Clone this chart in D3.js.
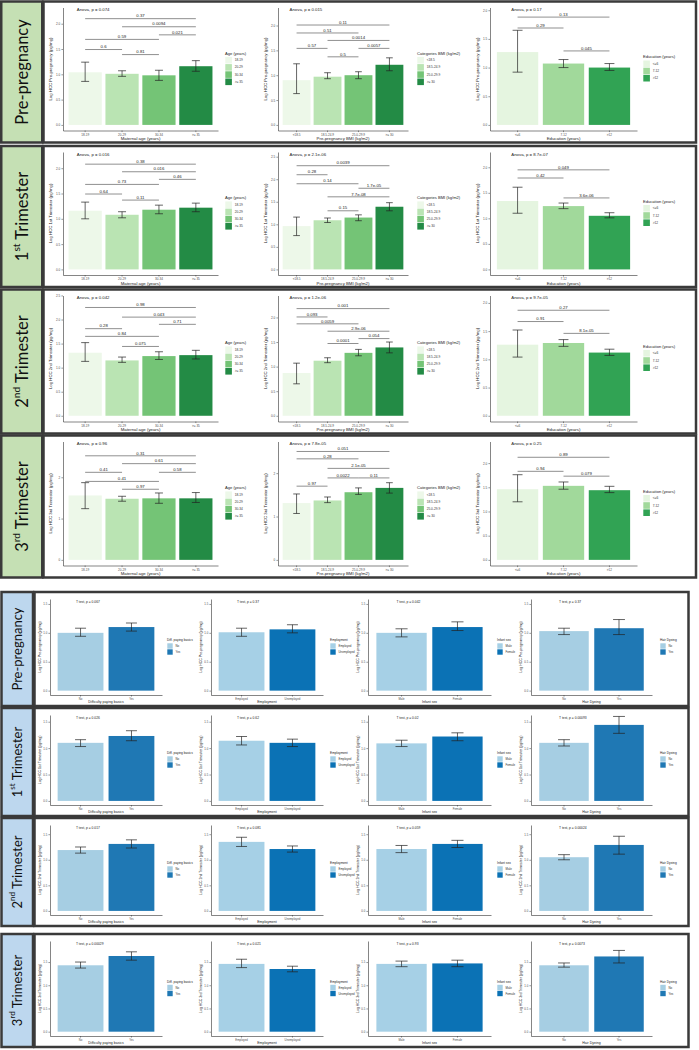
<!DOCTYPE html>
<html>
<head>
<meta charset="utf-8">
<script src="https://cdn.jsdelivr.net/npm/d3@7"></script>
<style>
body { margin: 0; background: #fff; }
</style>
</head>
<body>
<div id="fig"></div>
<script>
// etapas (filas)
var stages = ["Pre-pregnancy", "1st Trimester", "2nd Trimester", "3rd Trimester"];
var stageNum = ["", "1", "2", "3"];
var stageSup = ["", "st", "nd", "rd"];

// ---- parte superior: ANOVA ----
var ageCats = ["18-19", "20-29", "30-34", ">= 35"];
var ageMeans = [[1.04, 1.01, 0.98, 1.16], [1.16, 1.08, 1.18, 1.22], [1.31, 1.15, 1.24, 1.26], [1.56, 1.48, 1.49, 1.49]];
var ageLo = [[0.86, 0.96, 0.88, 1.06], [1.00, 1.02, 1.10, 1.14], [1.13, 1.11, 1.17, 1.18], [1.24, 1.42, 1.37, 1.39]];
var ageHi = [[1.24, 1.07, 1.08, 1.27], [1.33, 1.14, 1.27, 1.31], [1.52, 1.22, 1.33, 1.36], [1.87, 1.54, 1.62, 1.63]];
var ageBr = [
  [[0, 3, 2.10, "0.37"], [1, 3, 1.94, "0.0094"], [2, 3, 1.78, "0.021"], [0, 2, 1.69, "0.59"], [0, 1, 1.49, "0.6"], [1, 2, 1.39, "0.81"]],
  [[0, 3, 2.08, "0.38"], [1, 3, 1.93, "0.016"], [2, 3, 1.78, "0.46"], [0, 2, 1.68, "0.73"], [0, 1, 1.49, "0.64"], [1, 2, 1.37, "0.11"]],
  [[0, 3, 2.25, "0.98"], [1, 3, 2.05, "0.043"], [2, 3, 1.90, "0.71"], [0, 1, 1.81, "0.28"], [0, 2, 1.65, "0.84"], [1, 2, 1.44, "0.075"]],
  [[0, 3, 2.52, "0.31"], [1, 3, 2.33, "0.61"], [0, 1, 2.12, "0.41"], [2, 3, 2.12, "0.58"], [0, 2, 1.90, "0.41"], [1, 2, 1.71, "0.97"]]
];
var ageP = ["0.074", "0.016", "0.042", "0.96"];
var ageYmax = [2.21, 2.21, 2.38, 2.73];
var ageTicks = [[0, 0.5, 1, 1.5, 2], [0, 0.5, 1, 1.5, 2], [0, 0.5, 1, 1.5, 2, 2.5], [0, 1, 2]];

var bmiCats = ["<18.5", "18.5-24.9", "25.0-29.9", ">= 30"];
var bmiMeans = [[0.90, 0.97, 1.00, 1.21], [0.96, 1.09, 1.15, 1.39], [0.87, 1.12, 1.28, 1.39], [1.31, 1.37, 1.56, 1.66]];
var bmiLo = [[0.63, 0.93, 0.93, 1.09], [0.75, 1.04, 1.08, 1.30], [0.65, 1.08, 1.22, 1.28], [1.07, 1.32, 1.51, 1.54]];
var bmiHi = [[1.23, 1.05, 1.07, 1.35], [1.16, 1.14, 1.21, 1.48], [1.07, 1.18, 1.35, 1.50], [1.52, 1.45, 1.66, 1.78]];
var bmiBr = [
  [[0, 3, 2.01, "0.11"], [0, 2, 1.85, "0.51"], [1, 3, 1.70, "0.0014"], [0, 1, 1.54, "0.57"], [2, 3, 1.54, "0.0057"], [1, 2, 1.37, "0.5"]],
  [[0, 3, 2.30, "0.0039"], [0, 1, 2.10, "0.28"], [0, 2, 1.90, "0.14"], [2, 3, 1.80, "1.7e-05"], [1, 3, 1.61, "7.7e-08"], [1, 2, 1.30, "0.15"]],
  [[0, 3, 2.18, "0.001"], [0, 1, 2.01, "0.093"], [0, 2, 1.87, "0.0059"], [1, 3, 1.72, "2.9e-06"], [2, 3, 1.57, "0.054"], [1, 2, 1.47, "0.0001"]],
  [[0, 3, 2.50, "0.051"], [0, 2, 2.33, "0.28"], [1, 3, 2.11, "2.1e-05"], [1, 2, 1.89, "0.0022"], [2, 3, 1.89, "0.11"], [0, 1, 1.70, "0.97"]]
];
var bmiP = ["0.015", "2.1e-06", "1.2e-06", "7.8e-05"];
var bmiYmax = [2.25, 2.48, 2.33, 2.6];
var bmiTicks = [[0, 0.5, 1, 1.5, 2], [0, 0.5, 1, 1.5, 2, 2.5], [0, 0.5, 1, 1.5, 2], [0, 1, 2]];

var eduCats = ["<=6", "7-12", ">12"];
var eduMeans = [[1.27, 1.07, 1.00], [1.34, 1.24, 1.05], [1.26, 1.29, 1.12], [1.46, 1.53, 1.44]];
var eduLo = [[0.92, 1.00, 0.95], [1.10, 1.19, 1.01], [1.04, 1.23, 1.07], [1.20, 1.46, 1.39]];
var eduHi = [[1.65, 1.14, 1.07], [1.61, 1.30, 1.11], [1.52, 1.35, 1.18], [1.76, 1.61, 1.52]];
var eduBr = [
  [[0, 2, 1.88, "0.13"], [0, 1, 1.69, "0.29"], [1, 2, 1.29, "0.045"]],
  [[0, 2, 1.95, "0.049"], [0, 1, 1.79, "0.42"], [1, 2, 1.40, "3.6e-06"]],
  [[0, 2, 1.87, "0.27"], [0, 1, 1.67, "0.91"], [1, 2, 1.46, "8.1e-05"]],
  [[0, 2, 2.12, "0.89"], [0, 1, 1.83, "0.94"], [1, 2, 1.73, "0.079"]]
];
var eduP = ["0.17", "8.7e-07", "9.7e-05", "0.25"];
var eduYmax = [1.95, 2.19, 2.03, 2.33];
var eduTicks = [[0, 0.5, 1, 1.5, 2], [0, 0.5, 1, 1.5, 2], [0, 0.5, 1, 1.5, 2], [0, 0.5, 1, 1.5, 2]];

// ---- parte inferior: T test ----
var diffCats = ["No", "Yes"];
var diffMeans = [[1.00, 1.10], [1.10, 1.23], [1.19, 1.31], [1.43, 1.63]];
var diffLo = [[0.94, 1.03], [1.03, 1.14], [1.13, 1.23], [1.37, 1.54]];
var diffHi = [[1.08, 1.17], [1.16, 1.33], [1.25, 1.39], [1.50, 1.72]];
var diffP = ["0.067", "0.026", "0.017", "0.00029"];

var empCats = ["Employed", "Unemployed"];
var empMeans = [[1.01, 1.06], [1.14, 1.10], [1.35, 1.21], [1.46, 1.35]];
var empLo = [[0.94, 1.00], [1.06, 1.03], [1.26, 1.15], [1.38, 1.29]];
var empHi = [[1.08, 1.14], [1.22, 1.17], [1.44, 1.27], [1.56, 1.41]];
var empP = ["0.37", "0.62", "0.081", "0.021"];

var sexCats = ["Male", "Female"];
var sexMeans = [[1.00, 1.10], [1.09, 1.22], [1.21, 1.31], [1.46, 1.47]];
var sexLo = [[0.93, 1.04], [1.03, 1.14], [1.14, 1.24], [1.40, 1.40]];
var sexHi = [[1.07, 1.19], [1.15, 1.29], [1.28, 1.38], [1.52, 1.54]];
var sexP = ["0.042", "0.02", "0.059", "0.93"];

var dyeCats = ["No", "Yes"];
var dyeMeans = [[1.03, 1.08], [1.10, 1.44], [1.05, 1.29], [1.43, 1.62]];
var dyeLo = [[0.97, 0.97], [1.04, 1.28], [1.00, 1.11], [1.39, 1.48]];
var dyeHi = [[1.08, 1.23], [1.16, 1.60], [1.10, 1.46], [1.48, 1.75]];
var dyeP = ["0.37", "0.00093", "0.00024", "0.0073"];

var tYmax = [1.51, 1.55, 1.6, 1.86];
var tTicks = [0, 0.5, 1, 1.5];

// colores
var greens4 = ["#edf8e9", "#bae4b3", "#74c476", "#238b45"];
var greens3 = ["#e5f5e0", "#a1d99b", "#31a354"];
var blues1 = ["#a6cee3", "#1f78b4"];
var blues2 = ["#a6d0e6", "#0b72b5"];

var W = 699, H = 1050;
var svg = d3.select("#fig").append("svg").attr("width", W).attr("height", H);
var FONT = "Arial, 'Liberation Sans', sans-serif";

function tickFmt(ticks) {
  var allInt = ticks.every(function(t) { return t === Math.round(t); });
  return allInt ? d3.format("d") : d3.format(".1f");
}

function drawPanel(o) {
  var g = svg.append("g").attr("font-family", FONT);
  var x = d3.scaleBand().domain(o.cats).range([o.x0, o.x1]).paddingInner(0.1).paddingOuter(0.15);
  var y = d3.scaleLinear().domain([-0.05 * o.ymax, 1.05 * o.ymax]).range([o.y1, o.y0]);
  var bw = x.bandwidth();
  var data = o.cats.map(function(c, i) {
    return {c: c, m: o.means[i], lo: o.lo[i], hi: o.hi[i], col: o.colors[i]};
  });
  var cx = function(c) { return x(c) + bw / 2; };

  // barras
  g.selectAll(".bar").data(data).enter().append("rect")
    .attr("x", function(d) { return x(d.c); })
    .attr("y", function(d) { return y(d.m); })
    .attr("width", bw)
    .attr("height", function(d) { return y(0) - y(d.m); })
    .attr("fill", function(d) { return d.col; });

  // barras de error
  var cap = bw * 0.12;
  var eb = g.selectAll(".eb").data(data).enter().append("g")
    .attr("stroke", "#222").attr("stroke-width", 0.7);
  eb.append("line")
    .attr("x1", function(d) { return cx(d.c); }).attr("x2", function(d) { return cx(d.c); })
    .attr("y1", function(d) { return y(d.lo); }).attr("y2", function(d) { return y(d.hi); });
  eb.append("line")
    .attr("x1", function(d) { return cx(d.c) - cap; }).attr("x2", function(d) { return cx(d.c) + cap; })
    .attr("y1", function(d) { return y(d.lo); }).attr("y2", function(d) { return y(d.lo); });
  eb.append("line")
    .attr("x1", function(d) { return cx(d.c) - cap; }).attr("x2", function(d) { return cx(d.c) + cap; })
    .attr("y1", function(d) { return y(d.hi); }).attr("y2", function(d) { return y(d.hi); });

  // ejes
  var ya = g.append("g").attr("transform", "translate(" + o.x0 + ",0)")
    .call(d3.axisLeft(y).tickValues(o.ticks).tickFormat(tickFmt(o.ticks))
      .tickSize(1.6).tickSizeOuter(0).tickPadding(1.2));
  var xa = g.append("g").attr("transform", "translate(0," + o.y1 + ")")
    .call(d3.axisBottom(x).tickSize(1.6).tickSizeOuter(0).tickPadding(1.2));
  [ya, xa].forEach(function(a) {
    a.attr("font-family", FONT);
    a.select(".domain").attr("stroke", "#333").attr("stroke-width", 0.6);
    a.selectAll(".tick line").attr("stroke", "#333").attr("stroke-width", 0.5);
    a.selectAll(".tick text").attr("font-size", o.fs.tick).attr("fill", "#4d4d4d");
  });

  // titulos de ejes
  g.append("text")
    .attr("transform", "translate(" + (o.x0 - o.ytOff) + "," + ((o.y0 + o.y1) / 2) + ")rotate(-90)")
    .attr("text-anchor", "middle").attr("font-size", o.fs.title).attr("fill", "#222")
    .text(o.ylab);
  g.append("text")
    .attr("x", (o.x0 + o.x1) / 2).attr("y", o.y1 + o.xtOff)
    .attr("text-anchor", "middle").attr("font-size", o.fs.title).attr("fill", "#222")
    .text(o.xlab);

  // prueba global
  g.append("text")
    .attr("x", x(o.cats[0]) + bw * o.statX).attr("y", o.y0 + 3.5)
    .attr("font-size", o.fs.stat).attr("fill", "#222")
    .text(o.stat);

  // comparaciones por pares
  var br = g.selectAll(".br").data(o.br || []).enter().append("g");
  br.append("line")
    .attr("x1", function(d) { return cx(o.cats[d[0]]); })
    .attr("x2", function(d) { return cx(o.cats[d[1]]); })
    .attr("y1", function(d) { return y(d[2]); })
    .attr("y2", function(d) { return y(d[2]); })
    .attr("stroke", "#444").attr("stroke-width", 0.6);
  br.append("text")
    .attr("x", function(d) { return (cx(o.cats[d[0]]) + cx(o.cats[d[1]])) / 2; })
    .attr("y", function(d) { return y(d[2]) - 1.3; })
    .attr("text-anchor", "middle").attr("font-size", o.fs.stat).attr("fill", "#222")
    .text(function(d) { return d[3]; });

  // leyenda
  var k = o.fs.key, n = o.cats.length;
  var ly = (o.y0 + o.y1) / 2 - (n * k) / 2 + 2;
  var lg = g.append("g");
  lg.append("text").attr("x", o.lx).attr("y", ly - 2)
    .attr("font-size", o.fs.leg).attr("fill", "#222").text(o.leg);
  lg.selectAll("rect").data(data).enter().append("rect")
    .attr("x", o.lx + 0.3).attr("y", function(d, i) { return ly + i * k + 0.3; })
    .attr("width", k - 0.6).attr("height", k - 0.6)
    .attr("fill", function(d) { return d.col; });
  lg.selectAll(".lt").data(data).enter().append("text")
    .attr("x", o.lx + k + 2.5).attr("y", function(d, i) { return ly + i * k + k / 2 + 1; })
    .attr("font-size", o.fs.legItem).attr("fill", "#333")
    .text(function(d) { return d.c; });
}

function rowLabel(i, cx, cy, size) {
  var t = svg.append("text")
    .attr("transform", "translate(" + cx + "," + cy + ")rotate(-90)")
    .attr("text-anchor", "middle").attr("dominant-baseline", "central")
    .attr("font-family", "Lato, 'Open Sans', sans-serif").attr("font-size", size).attr("fill", "#111");
  if (i === 0) {
    t.text(stages[0]);
  } else {
    t.append("tspan").text(stageNum[i]);
    t.append("tspan").attr("font-size", size * 0.62).attr("dy", -size * 0.38).text(stageSup[i]);
    t.append("tspan").attr("dy", size * 0.38).text(" Trimester");
  }
}

// ---- marcos y paneles superiores ----
var topRows = [[1.5, 141], [146, 141], [289.5, 144], [435.5, 142]];
var topFs = {tick: 3.1, title: 4.3, stat: 4.3, leg: 4.1, legItem: 3.2, key: 7.2};
var topPanels = [
  {cats: ageCats, colors: greens4, means: ageMeans, lo: ageLo, hi: ageHi, br: ageBr, p: ageP, ymax: ageYmax, ticks: ageTicks,
   xlab: "Maternal age (years)", leg: "Age (years)", x0: 63, x1: 218, lx: 225, statX: 0.25},
  {cats: bmiCats, colors: greens4, means: bmiMeans, lo: bmiLo, hi: bmiHi, br: bmiBr, p: bmiP, ymax: bmiYmax, ticks: bmiTicks,
   xlab: "Pre-pregnancy BMI (kg/m2)", leg: "Categories BMI (kg/m2)", x0: 278, x1: 408, lx: 417, statX: 0.25},
  {cats: eduCats, colors: greens3, means: eduMeans, lo: eduLo, hi: eduHi, br: eduBr, p: eduP, ymax: eduYmax, ticks: eduTicks,
   xlab: "Education (years)", leg: "Education (years)", x0: 490, x1: 637, lx: 643, statX: 0.35}
];

topRows.forEach(function(r, i) {
  var y0 = r[0], h = r[1];
  svg.append("rect").attr("x", 1.25).attr("y", y0).attr("width", 41).attr("height", h)
    .attr("fill", "#c5e0b4").attr("stroke", "#3a3a3a").attr("stroke-width", 2.5);
  svg.append("rect").attr("x", 43.5).attr("y", y0).attr("width", 652.5).attr("height", h)
    .attr("fill", "#fff").attr("stroke", "#3a3a3a").attr("stroke-width", 2.5);
  rowLabel(i, 22, y0 + h / 2, 16.5);
  topPanels.forEach(function(p) {
    drawPanel({
      cats: p.cats, colors: p.colors, means: p.means[i], lo: p.lo[i], hi: p.hi[i], br: p.br[i],
      ymax: p.ymax[i], ticks: p.ticks[i], stat: "Anova, p = " + p.p[i], statX: p.statX,
      ylab: "Log HCC " + stages[i] + " (pg/mg)", xlab: p.xlab, leg: p.leg,
      x0: p.x0, x1: p.x1, lx: p.lx, y0: y0 + 6, y1: y0 + h - 12,
      ytOff: 11, xtOff: 9.5, fs: topFs
    });
  });
});

// ---- marcos y paneles inferiores ----
var botRows = [[592, 114], [708, 108], [818, 108], [934, 113]];
var botFs = {tick: 2.8, title: 3.5, stat: 3.3, leg: 3.2, legItem: 2.9, key: 6};
var botPanels = [
  {cats: diffCats, colors: blues1, means: diffMeans, lo: diffLo, hi: diffHi, p: diffP,
   xlab: "Difficulty paying basics", leg: "Diff. paying basics", x0: 50, x1: 162, lx: 167},
  {cats: empCats, colors: blues2, means: empMeans, lo: empLo, hi: empHi, p: empP,
   xlab: "Employment", leg: "Employment", x0: 211, x1: 323, lx: 330},
  {cats: sexCats, colors: blues2, means: sexMeans, lo: sexLo, hi: sexHi, p: sexP,
   xlab: "Infant sex", leg: "Infant sex", x0: 368, x1: 491, lx: 497},
  {cats: dyeCats, colors: blues1, means: dyeMeans, lo: dyeLo, hi: dyeHi, p: dyeP,
   xlab: "Hair Dyeing", leg: "Hair Dyeing", x0: 531, x1: 652, lx: 660}
];

botRows.forEach(function(r, i) {
  var y0 = r[0], h = r[1];
  svg.append("rect").attr("x", 1.5).attr("y", y0).attr("width", 31.5).attr("height", h)
    .attr("fill", "#bdd7ee").attr("stroke", "#3a3a3a").attr("stroke-width", 2.5);
  svg.append("rect").attr("x", 34.5).attr("y", y0).attr("width", 654).attr("height", h)
    .attr("fill", "#fff").attr("stroke", "#3a3a3a").attr("stroke-width", 2.5);
  rowLabel(i, 17, y0 + h / 2, 13);
  botPanels.forEach(function(p) {
    drawPanel({
      cats: p.cats, colors: p.colors, means: p.means[i], lo: p.lo[i], hi: p.hi[i], br: [],
      ymax: tYmax[i], ticks: tTicks, stat: "T test, p = " + p.p[i], statX: 0.4,
      ylab: "Log HCC " + stages[i] + " (pg/mg)", xlab: p.xlab, leg: p.leg,
      x0: p.x0, x1: p.x1, lx: p.lx, y0: y0 + 7, y1: y0 + h - 11,
      ytOff: 9, xtOff: 7.5, fs: botFs
    });
  });
});
</script>
</body>
</html>
